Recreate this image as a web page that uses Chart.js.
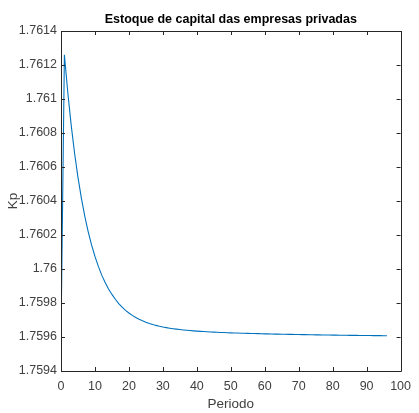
<!DOCTYPE html>
<html><head><meta charset="utf-8">
<script src="https://cdn.jsdelivr.net/npm/chart.js@4/dist/chart.umd.min.js"></script>
<style>html,body{margin:0;padding:0;background:#fff}#wrap{width:419px;height:413px;position:relative}</style>
</head><body><div id="wrap"><canvas id="c" width="419" height="413"></canvas></div>
<script>
const periods = [0,1,2,3,4,5,6,7,8,9,10,11,12,13,14,15,16,17,18,19,20,21,22,23,24,25,26,27,28,29,30,31,32,33,34,35,36,37,38,39,40,41,42,43,44,45,46,47,48,49,50,51,52,53,54,55,56,57,58,59,60,61,62,63,64,65,66,67,68,69,70,71,72,73,74,75,76,77,78,79,80,81,82,83,84,85,86,87,88,89,90,91,92,93,94,95,96];
const kp = [1.7596000,
1.7612600,1.7610380,1.7608461,1.7606812,1.7605394,1.7604166,1.7603109,1.7602202,1.7601415,1.7600739,
1.7600153,1.7599638,1.7599203,1.7598828,1.7598504,1.7598220,1.7597966,1.7597753,1.7597570,1.7597411,
1.7597272,1.7597150,1.7597044,1.7596952,1.7596871,1.7596800,1.7596737,1.7596682,1.7596634,1.7596591,
1.7596553,1.7596519,1.7596489,1.7596462,1.7596438,1.7596416,1.7596396,1.7596378,1.7596362,1.7596348,
1.7596333,1.7596321,1.7596309,1.7596298,1.7596287,1.7596278,1.7596269,1.7596261,1.7596253,1.7596245,
1.7596238,1.7596232,1.7596225,1.7596219,1.7596213,1.7596207,1.7596202,1.7596196,1.7596191,1.7596186,
1.7596182,1.7596177,1.7596172,1.7596168,1.7596164,1.7596160,1.7596156,1.7596152,1.7596148,1.7596144,
1.7596140,1.7596137,1.7596133,1.7596130,1.7596127,1.7596124,1.7596120,1.7596117,1.7596114,1.7596111,
1.7596108,1.7596106,1.7596103,1.7596101,1.7596098,1.7596096,1.7596093,1.7596091,1.7596089,1.7596087,
1.7596084,1.7596082,1.7596080,1.7596078,1.7596076,1.7596074];
const xTicks = [0,10,20,30,40,50,60,70,80,90,100];
const yTicks = [1.7594,1.7596,1.7598,1.7600,1.7602,1.7604,1.7606,1.7608,1.7610,1.7612,1.7614];
const titleText = 'Estoque de capital das empresas privadas';
const xTitle = 'Periodo';
const yTitle = 'Kp';

const FONT = "'Liberation Sans Narrow', 'Arial Narrow', 'Liberation Sans', Arial, sans-serif";
const axisColor = '#262626';
const labelColor = '#404040';

const boxPlugin = {
  id: 'matlabBox',
  afterDraw(chart) {
    const {ctx, chartArea: a, scales: {x, y}} = chart;
    ctx.save();
    ctx.strokeStyle = axisColor;
    ctx.lineWidth = 1;
    ctx.beginPath();
    ctx.rect(Math.round(a.left) + 0.5, Math.round(a.top) + 0.5, Math.round(a.right - a.left), Math.round(a.bottom - a.top));
    ctx.stroke();
    const L = 4;
    ctx.beginPath();
    xTicks.forEach(v => {
      const px = Math.round(x.getPixelForValue(v)) + 0.5;
      ctx.moveTo(px, a.bottom); ctx.lineTo(px, a.bottom - L);
      ctx.moveTo(px, a.top); ctx.lineTo(px, a.top + L);
    });
    yTicks.forEach(v => {
      const py = Math.round(y.getPixelForValue(v)) + 0.5;
      ctx.moveTo(a.left, py); ctx.lineTo(a.left + L, py);
      ctx.moveTo(a.right, py); ctx.lineTo(a.right - L, py);
    });
    ctx.stroke();
    // axes title, centred over the axes as in MATLAB
    ctx.fillStyle = '#000';
    ctx.font = "bold 12.5px " + FONT;
    ctx.textAlign = 'center';
    ctx.textBaseline = 'middle';
    ctx.fillText(titleText, (a.left + a.right) / 2, 20);
    ctx.restore();
  }
};

new Chart(document.getElementById('c'), {
  type: 'line',
  data: { datasets: [{
    data: periods.map((p, i) => ({x: p, y: kp[i]})),
    borderColor: '#0072BD', borderWidth: 1.1, pointRadius: 0, fill: false, tension: 0
  }]},
  options: {
    responsive: false, animation: false, devicePixelRatio: 1,
    layout: { padding: { left: 0, right: 10, top: 31, bottom: 0 } },
    plugins: { legend: { display: false }, tooltip: { enabled: false }, title: { display: false } },
    scales: {
      x: { type: 'linear', min: 0, max: 100,
        afterBuildTicks: s => { s.ticks = xTicks.map(v => ({value: v})); },
        grid: { display: false, drawTicks: false }, border: { display: false },
        ticks: { color: labelColor, font: { family: FONT, size: 12.5 }, padding: 8, maxRotation: 0, autoSkip: false },
        title: { display: true, text: xTitle, color: labelColor, font: { family: FONT, size: 13.5 }, padding: { top: 2, bottom: 1 } },
        afterFit: s => { s.height = 42; }
      },
      y: { type: 'linear', min: 1.7594, max: 1.7614,
        afterBuildTicks: s => { s.ticks = yTicks.map(v => ({value: v})); },
        grid: { display: false, drawTicks: false }, border: { display: false },
        ticks: { color: labelColor, font: { family: FONT, size: 12.5 }, padding: 4, autoSkip: false,
          callback: v => String(+Number(v).toFixed(4)) },
        title: { display: true, text: yTitle, color: labelColor, font: { family: FONT, size: 13.5 }, padding: { top: 5, bottom: 2 } },
        afterFit: s => { s.width = 61; }
      }
    }
  },
  plugins: [boxPlugin]
});
</script></body></html>
